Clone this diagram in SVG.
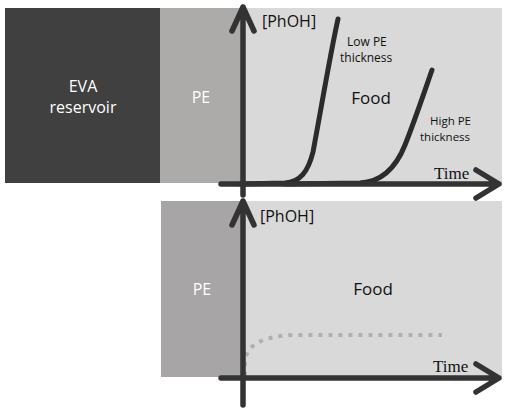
<svg xmlns="http://www.w3.org/2000/svg" width="510" height="409" viewBox="0 0 510 409">
<style>
.lbl{font-family:"Open Sans","Liberation Sans",sans-serif;}
.w{fill:#ffffff;}
.k{fill:#111111;}
.t{font-family:"Liberation Serif",serif;fill:#111111;font-size:17px;}
.ax{fill:none;stroke:#333333;stroke-width:5.5;stroke-linecap:round;stroke-linejoin:round;}
.cv{fill:none;stroke:#2b2b2b;stroke-width:5;stroke-linecap:round;}
</style>
<rect width="510" height="409" fill="#ffffff"/>
<g id="top-panel">
  <g id="food-top"><rect x="243" y="8" width="259" height="175" fill="#d9d9d9"/>
    <text class="lbl k" x="371" y="104" font-size="17" text-anchor="middle">Food</text></g>
  <g id="eva"><rect x="5" y="8" width="155" height="175" fill="#404040"/>
    <text class="lbl w" x="83" y="92" font-size="16" text-anchor="middle">EVA</text>
    <text class="lbl w" x="83" y="113" font-size="16" text-anchor="middle">reservoir</text></g>
  <g id="pe-top"><rect x="160" y="8" width="83" height="175" fill="#adaaaa"/>
    <text class="lbl w" x="201" y="103" font-size="16" text-anchor="middle">PE</text></g>
</g>
<g id="bottom-panel">
  <g id="food-bottom"><rect x="243" y="201" width="259" height="176" fill="#d9d9d9"/>
    <text class="lbl k" x="373" y="295" font-size="17" text-anchor="middle">Food</text></g>
  <g id="pe-bottom"><rect x="161" y="201" width="82" height="176" fill="#a7a5a5"/>
    <text class="lbl w" x="202" y="295" font-size="16" text-anchor="middle">PE</text></g>
</g>
<g id="connectors">
  <path class="cv" d="M240 184 L285 183 C300 182 308 172 313 152 C320 115 330 55 338 19"/>
  <path class="cv" d="M285 184 L360 183 C380 182 395 170 405 145 C415 120 425 90 432 70"/>
  <path fill="none" stroke="#b0b0b0" stroke-width="4" stroke-dasharray="4 6" d="M245 376 L245 362 C246 345 262 336 295 335 L442 335"/>
  <path class="ax" d="M243 195 L243 7 M232 31 L243 7 L254 31"/>
  <path class="ax" d="M221 184 L499 184 M476 170 L499 184 L476 198"/>
  <path class="ax" d="M243 405 L243 201 M232 225 L243 201 L254 225"/>
  <path class="ax" d="M221 378 L499 378 M476 364 L499 378 L476 392"/>
</g>
<g id="labels">
  <text class="lbl k" x="262" y="27" font-size="16">[PhOH]</text>
  <text class="lbl k" x="347" y="46" font-size="12">Low PE</text>
  <text class="lbl k" x="340" y="62" font-size="12">thickness</text>
  <text class="lbl k" x="430" y="125" font-size="11.5">High PE</text>
  <text class="lbl k" x="420" y="141" font-size="11.5">thickness</text>
  <text class="t" x="434" y="179">Time</text>
  <text class="lbl k" x="260" y="222" font-size="16">[PhOH]</text>
  <text class="t" x="433" y="372">Time</text>
</g>
</svg>
